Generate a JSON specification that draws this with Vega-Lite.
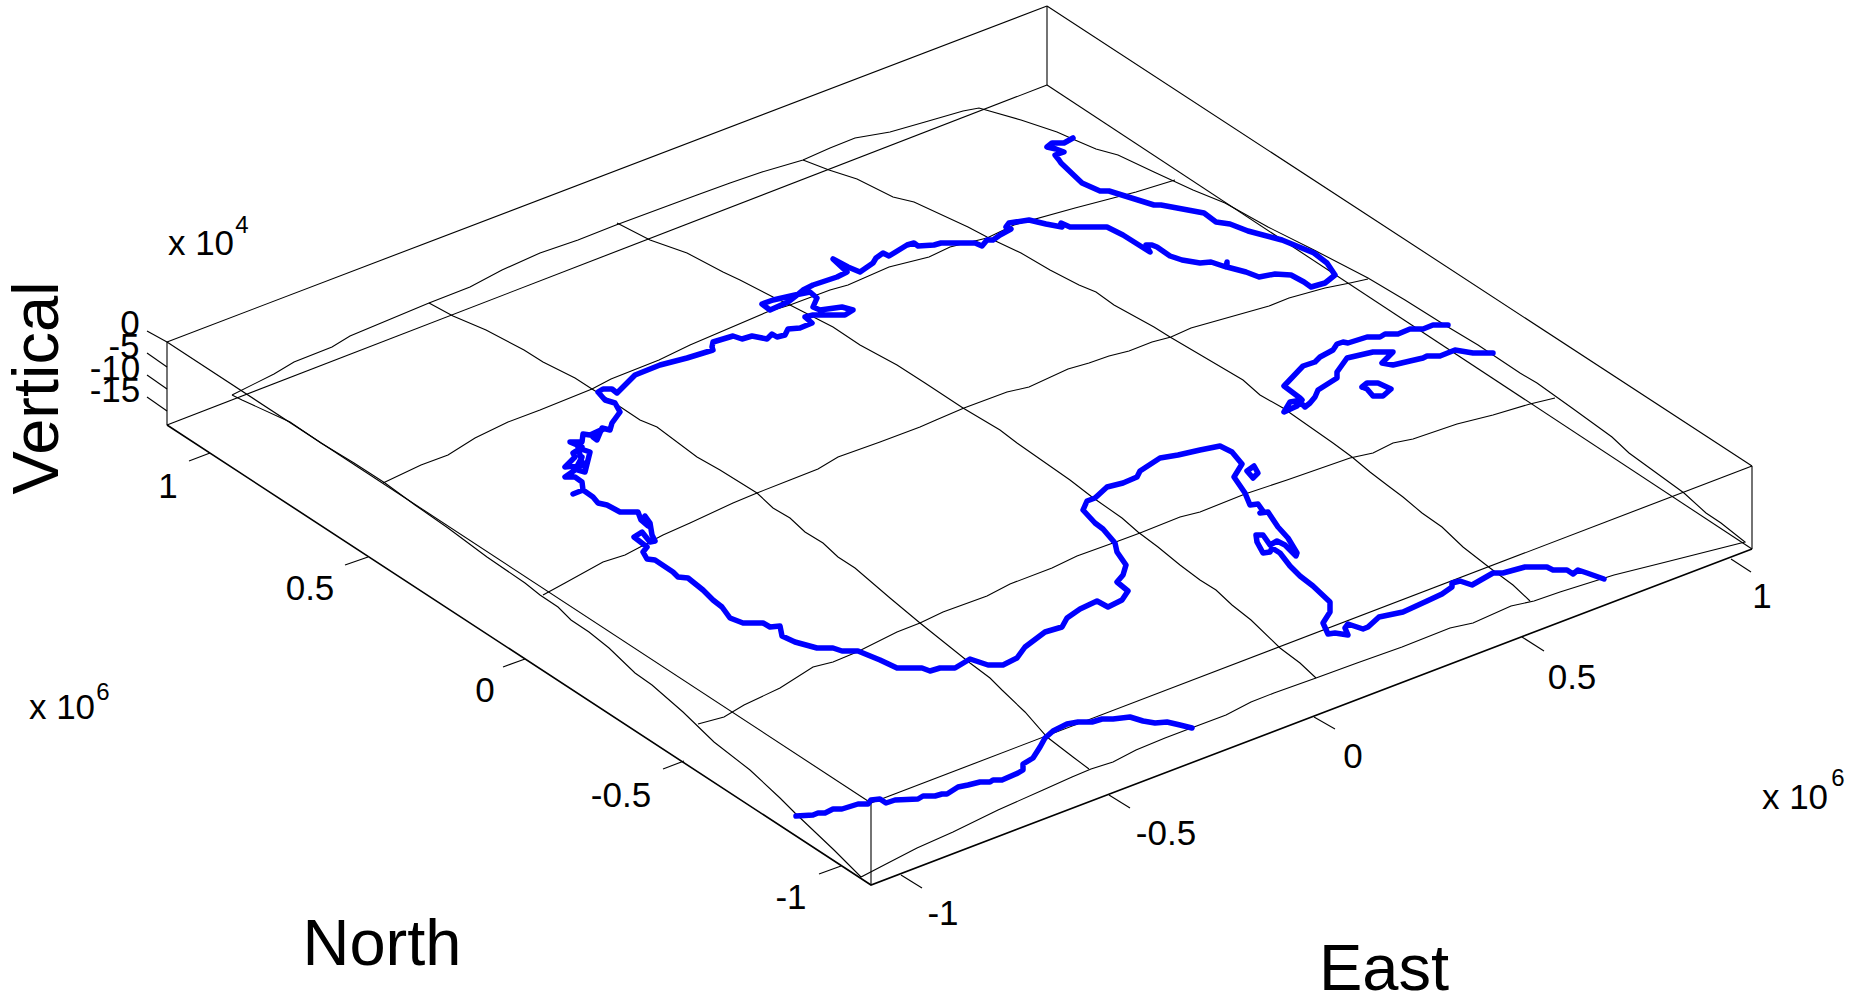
{"$schema":"https://vega.github.io/schema/vega-lite/v6.json","width":1855,"height":995,"autosize":{"type":"none"},"padding":0,"background":"white","config":{"view":{"stroke":null}},
"datasets":{
"frame":[
{"s":"ab","x":167,"y":342},{"s":"ab","x":1047,"y":6},
{"s":"bc","x":1047,"y":6},{"s":"bc","x":1752,"y":466},
{"s":"cd","x":1752,"y":466},{"s":"cd","x":871,"y":803},
{"s":"da","x":871,"y":803},{"s":"da","x":167,"y":342},
{"s":"aa","x":167,"y":342},{"s":"aa","x":167,"y":425},
{"s":"bb","x":1047,"y":6},{"s":"bb","x":1047,"y":85},
{"s":"cc","x":1752,"y":466},{"s":"cc","x":1752,"y":549},
{"s":"dd","x":871,"y":803},{"s":"dd","x":871,"y":885},
{"s":"ab2","x":167,"y":425},{"s":"ab2","x":1047,"y":85},
{"s":"bc2","x":1047,"y":85},{"s":"bc2","x":1752,"y":549},
{"s":"tn1","x":210,"y":453},{"s":"tn1","x":189,"y":461},
{"s":"tn2","x":368,"y":557},{"s":"tn2","x":345,"y":565},
{"s":"tn3","x":525,"y":659},{"s":"tn3","x":503,"y":667},
{"s":"tn4","x":684,"y":761},{"s":"tn4","x":663,"y":769},
{"s":"tn5","x":841,"y":866},{"s":"tn5","x":819,"y":874},
{"s":"te1","x":901,"y":875},{"s":"te1","x":922,"y":888},
{"s":"te2","x":1109,"y":795},{"s":"te2","x":1130,"y":808},
{"s":"te3","x":1314,"y":717},{"s":"te3","x":1335,"y":729},
{"s":"te4","x":1522,"y":637},{"s":"te4","x":1544,"y":651},
{"s":"te5","x":1731,"y":559},{"s":"te5","x":1751,"y":572},
{"s":"tv1","x":167,"y":342},{"s":"tv1","x":147,"y":331},
{"s":"tv2","x":167,"y":367},{"s":"tv2","x":147,"y":353},
{"s":"tv3","x":167,"y":389},{"s":"tv3","x":147,"y":375},
{"s":"tv4","x":167,"y":411},{"s":"tv4","x":147,"y":397}],
"front":[{"x":167,"y":425},{"x":871,"y":885},{"x":1752,"y":549}],
"grid":[
{"s":"o","x":232,"y":395},{"s":"o","x":274,"y":374},{"s":"o","x":294,"y":362},{"s":"o","x":332,"y":347},{"s":"o","x":350,"y":336},{"s":"o","x":429,"y":303},{"s":"o","x":470,"y":287},{"s":"o","x":502,"y":270},{"s":"o","x":540,"y":253},{"s":"o","x":578,"y":240},{"s":"o","x":616,"y":225},{"s":"o","x":670,"y":205},{"s":"o","x":697,"y":195},{"s":"o","x":730,"y":183},{"s":"o","x":762,"y":172},{"s":"o","x":803,"y":160},{"s":"o","x":830,"y":148},{"s":"o","x":855,"y":138},{"s":"o","x":890,"y":132},{"s":"o","x":925,"y":122},{"s":"o","x":963,"y":111},{"s":"o","x":979,"y":108},{"s":"o","x":1021,"y":120},{"s":"o","x":1057,"y":132},{"s":"o","x":1075,"y":140},{"s":"o","x":1096,"y":149},{"s":"o","x":1118,"y":155},{"s":"o","x":1154,"y":172},{"s":"o","x":1193,"y":190},{"s":"o","x":1225,"y":203},{"s":"o","x":1268,"y":227},{"s":"o","x":1314,"y":250},{"s":"o","x":1368,"y":278},{"s":"o","x":1405,"y":300},{"s":"o","x":1448,"y":327},{"s":"o","x":1478,"y":345},{"s":"o","x":1520,"y":373},{"s":"o","x":1537,"y":383},{"s":"o","x":1572,"y":408},{"s":"o","x":1612,"y":437},{"s":"o","x":1629,"y":453},{"s":"o","x":1684,"y":493},{"s":"o","x":1706,"y":513},{"s":"o","x":1721,"y":523},{"s":"o","x":1745,"y":542},
{"s":"o","x":1662,"y":563},{"s":"o","x":1614,"y":575},{"s":"o","x":1560,"y":592},{"s":"o","x":1534,"y":601},{"s":"o","x":1511,"y":606},{"s":"o","x":1473,"y":623},{"s":"o","x":1450,"y":628},{"s":"o","x":1402,"y":647},{"s":"o","x":1357,"y":663},{"s":"o","x":1316,"y":678},{"s":"o","x":1274,"y":693},{"s":"o","x":1251,"y":702},{"s":"o","x":1226,"y":715},{"s":"o","x":1194,"y":727},{"s":"o","x":1165,"y":738},{"s":"o","x":1136,"y":750},{"s":"o","x":1113,"y":762},{"s":"o","x":1091,"y":769},{"s":"o","x":1072,"y":777},{"s":"o","x":1043,"y":790},{"s":"o","x":998,"y":810},{"s":"o","x":953,"y":832},{"s":"o","x":917,"y":848},{"s":"o","x":888,"y":863},{"s":"o","x":861,"y":877},
{"s":"o","x":834,"y":850},{"s":"o","x":795,"y":813},{"s":"o","x":780,"y":798},{"s":"o","x":750,"y":770},{"s":"o","x":714,"y":742},{"s":"o","x":683,"y":712},{"s":"o","x":652,"y":685},{"s":"o","x":635,"y":673},{"s":"o","x":609,"y":648},{"s":"o","x":589,"y":632},{"s":"o","x":571,"y":620},{"s":"o","x":558,"y":607},{"s":"o","x":540,"y":595},{"s":"o","x":525,"y":583},{"s":"o","x":487,"y":557},{"s":"o","x":448,"y":528},{"s":"o","x":415,"y":505},{"s":"o","x":385,"y":483},{"s":"o","x":354,"y":463},{"s":"o","x":321,"y":443},{"s":"o","x":290,"y":422},{"s":"o","x":242,"y":400},{"s":"o","x":232,"y":395},
{"s":"l1","x":383,"y":483},{"s":"l1","x":421,"y":465},{"s":"l1","x":448,"y":455},{"s":"l1","x":475,"y":438},{"s":"l1","x":508,"y":422},{"s":"l1","x":540,"y":410},{"s":"l1","x":592,"y":389},{"s":"l1","x":611,"y":379},{"s":"l1","x":659,"y":360},{"s":"l1","x":690,"y":345},{"s":"l1","x":767,"y":312},{"s":"l1","x":790,"y":305},{"s":"l1","x":830,"y":290},{"s":"l1","x":848,"y":285},{"s":"l1","x":889,"y":267},{"s":"l1","x":929,"y":257},{"s":"l1","x":950,"y":247},{"s":"l1","x":987,"y":238},{"s":"l1","x":1014,"y":225},{"s":"l1","x":1075,"y":208},{"s":"l1","x":1136,"y":192},{"s":"l1","x":1175,"y":180},
{"s":"l2","x":543,"y":595},{"s":"l2","x":565,"y":583},{"s":"l2","x":603,"y":562},{"s":"l2","x":625,"y":555},{"s":"l2","x":663,"y":535},{"s":"l2","x":690,"y":523},{"s":"l2","x":733,"y":503},{"s":"l2","x":757,"y":493},{"s":"l2","x":790,"y":480},{"s":"l2","x":818,"y":469},{"s":"l2","x":838,"y":457},{"s":"l2","x":880,"y":442},{"s":"l2","x":920,"y":427},{"s":"l2","x":936,"y":420},{"s":"l2","x":964,"y":408},{"s":"l2","x":1007,"y":392},{"s":"l2","x":1029,"y":387},{"s":"l2","x":1068,"y":369},{"s":"l2","x":1089,"y":363},{"s":"l2","x":1109,"y":356},{"s":"l2","x":1129,"y":351},{"s":"l2","x":1152,"y":342},{"s":"l2","x":1171,"y":337},{"s":"l2","x":1191,"y":328},{"s":"l2","x":1269,"y":306},{"s":"l2","x":1289,"y":298},{"s":"l2","x":1325,"y":288},{"s":"l2","x":1350,"y":283},{"s":"l2","x":1368,"y":279},
{"s":"l3","x":698,"y":724},{"s":"l3","x":724,"y":717},{"s":"l3","x":744,"y":705},{"s":"l3","x":780,"y":688},{"s":"l3","x":813,"y":667},{"s":"l3","x":833,"y":662},{"s":"l3","x":857,"y":652},{"s":"l3","x":897,"y":632},{"s":"l3","x":920,"y":623},{"s":"l3","x":943,"y":612},{"s":"l3","x":987,"y":596},{"s":"l3","x":1010,"y":584},{"s":"l3","x":1052,"y":568},{"s":"l3","x":1077,"y":556},{"s":"l3","x":1113,"y":543},{"s":"l3","x":1140,"y":533},{"s":"l3","x":1180,"y":517},{"s":"l3","x":1200,"y":512},{"s":"l3","x":1245,"y":494},{"s":"l3","x":1287,"y":480},{"s":"l3","x":1350,"y":458},{"s":"l3","x":1373,"y":453},{"s":"l3","x":1393,"y":443},{"s":"l3","x":1413,"y":439},{"s":"l3","x":1457,"y":424},{"s":"l3","x":1493,"y":415},{"s":"l3","x":1530,"y":404},{"s":"l3","x":1555,"y":398},
{"s":"m1","x":429,"y":303},{"s":"m1","x":453,"y":316},{"s":"m1","x":486,"y":330},{"s":"m1","x":524,"y":350},{"s":"m1","x":543,"y":362},{"s":"m1","x":575,"y":378},{"s":"m1","x":592,"y":389},{"s":"m1","x":622,"y":408},{"s":"m1","x":640,"y":420},{"s":"m1","x":657,"y":427},{"s":"m1","x":697,"y":457},{"s":"m1","x":720,"y":470},{"s":"m1","x":757,"y":493},{"s":"m1","x":773,"y":508},{"s":"m1","x":790,"y":518},{"s":"m1","x":805,"y":532},{"s":"m1","x":823,"y":543},{"s":"m1","x":838,"y":557},{"s":"m1","x":855,"y":568},{"s":"m1","x":890,"y":598},{"s":"m1","x":920,"y":623},{"s":"m1","x":950,"y":647},{"s":"m1","x":970,"y":663},{"s":"m1","x":990,"y":678},{"s":"m1","x":1002,"y":690},{"s":"m1","x":1025,"y":712},{"s":"m1","x":1047,"y":737},{"s":"m1","x":1073,"y":757},{"s":"m1","x":1089,"y":769},
{"s":"m2","x":617,"y":223},{"s":"m2","x":650,"y":240},{"s":"m2","x":687,"y":253},{"s":"m2","x":723,"y":272},{"s":"m2","x":740,"y":280},{"s":"m2","x":773,"y":297},{"s":"m2","x":790,"y":305},{"s":"m2","x":833,"y":327},{"s":"m2","x":860,"y":345},{"s":"m2","x":897,"y":365},{"s":"m2","x":925,"y":383},{"s":"m2","x":963,"y":408},{"s":"m2","x":1000,"y":430},{"s":"m2","x":1017,"y":443},{"s":"m2","x":1070,"y":480},{"s":"m2","x":1092,"y":497},{"s":"m2","x":1122,"y":518},{"s":"m2","x":1138,"y":532},{"s":"m2","x":1158,"y":547},{"s":"m2","x":1180,"y":565},{"s":"m2","x":1200,"y":580},{"s":"m2","x":1216,"y":590},{"s":"m2","x":1232,"y":605},{"s":"m2","x":1251,"y":620},{"s":"m2","x":1280,"y":648},{"s":"m2","x":1300,"y":663},{"s":"m2","x":1316,"y":678},
{"s":"m3","x":803,"y":160},{"s":"m3","x":829,"y":170},{"s":"m3","x":857,"y":179},{"s":"m3","x":893,"y":197},{"s":"m3","x":914,"y":202},{"s":"m3","x":968,"y":227},{"s":"m3","x":987,"y":237},{"s":"m3","x":1021,"y":253},{"s":"m3","x":1050,"y":270},{"s":"m3","x":1079,"y":285},{"s":"m3","x":1096,"y":292},{"s":"m3","x":1114,"y":305},{"s":"m3","x":1154,"y":327},{"s":"m3","x":1170,"y":337},{"s":"m3","x":1204,"y":357},{"s":"m3","x":1243,"y":380},{"s":"m3","x":1260,"y":395},{"s":"m3","x":1283,"y":408},{"s":"m3","x":1333,"y":443},{"s":"m3","x":1352,"y":457},{"s":"m3","x":1370,"y":472},{"s":"m3","x":1387,"y":485},{"s":"m3","x":1403,"y":497},{"s":"m3","x":1422,"y":513},{"s":"m3","x":1442,"y":527},{"s":"m3","x":1463,"y":547},{"s":"m3","x":1490,"y":568},{"s":"m3","x":1513,"y":585},{"s":"m3","x":1530,"y":601}],
"coast":[
{"s":"A","x":1073,"y":138},{"s":"A","x":1064,"y":143},{"s":"A","x":1052,"y":143},{"s":"A","x":1047,"y":147},{"s":"A","x":1056,"y":149},{"s":"A","x":1064,"y":152},{"s":"A","x":1055,"y":155},{"s":"A","x":1059,"y":160},{"s":"A","x":1061,"y":163},{"s":"A","x":1082,"y":183},{"s":"A","x":1100,"y":191},{"s":"A","x":1109,"y":191},{"s":"A","x":1154,"y":205},{"s":"A","x":1161,"y":205},{"s":"A","x":1204,"y":213},{"s":"A","x":1216,"y":222},{"s":"A","x":1230,"y":224},{"s":"A","x":1248,"y":231},{"s":"A","x":1282,"y":240},{"s":"A","x":1314,"y":253},{"s":"A","x":1327,"y":263},{"s":"A","x":1335,"y":275},{"s":"A","x":1325,"y":283},{"s":"A","x":1311,"y":287},{"s":"A","x":1304,"y":282},{"s":"A","x":1291,"y":275},{"s":"A","x":1275,"y":274},{"s":"A","x":1259,"y":277},{"s":"A","x":1246,"y":272},{"s":"A","x":1227,"y":267},{"s":"A","x":1227,"y":262},{"s":"A","x":1226,"y":267},{"s":"A","x":1211,"y":262},{"s":"A","x":1200,"y":263},{"s":"A","x":1182,"y":260},{"s":"A","x":1170,"y":256},{"s":"A","x":1157,"y":247},{"s":"A","x":1152,"y":245},{"s":"A","x":1146,"y":245},{"s":"A","x":1150,"y":252},{"s":"A","x":1123,"y":235},{"s":"A","x":1107,"y":227},{"s":"A","x":1070,"y":227},{"s":"A","x":1061,"y":223},{"s":"A","x":1062,"y":227},{"s":"A","x":1046,"y":224},{"s":"A","x":1029,"y":220},{"s":"A","x":1009,"y":223},{"s":"A","x":1006,"y":227},{"s":"A","x":1011,"y":229},{"s":"A","x":1000,"y":235},{"s":"A","x":993,"y":240},{"s":"A","x":987,"y":240},{"s":"A","x":982,"y":246},{"s":"A","x":975,"y":243},{"s":"A","x":941,"y":243},{"s":"A","x":934,"y":245},{"s":"A","x":918,"y":246},{"s":"A","x":914,"y":243},{"s":"A","x":907,"y":245},{"s":"A","x":889,"y":256},{"s":"A","x":883,"y":253},{"s":"A","x":876,"y":258},{"s":"A","x":873,"y":263},{"s":"A","x":860,"y":272},{"s":"A","x":848,"y":267},{"s":"A","x":833,"y":259},{"s":"A","x":847,"y":272},{"s":"A","x":837,"y":277},{"s":"A","x":813,"y":285},{"s":"A","x":803,"y":290},{"s":"A","x":797,"y":295},{"s":"A","x":788,"y":302},{"s":"A","x":770,"y":310},{"s":"A","x":762,"y":304},{"s":"A","x":773,"y":300},{"s":"A","x":795,"y":295},{"s":"A","x":810,"y":292},{"s":"A","x":817,"y":298},{"s":"A","x":813,"y":307},{"s":"A","x":820,"y":310},{"s":"A","x":842,"y":307},{"s":"A","x":853,"y":310},{"s":"A","x":845,"y":315},{"s":"A","x":813,"y":315},{"s":"A","x":805,"y":317},{"s":"A","x":812,"y":323},{"s":"A","x":800,"y":328},{"s":"A","x":788,"y":329},{"s":"A","x":785,"y":335},{"s":"A","x":777,"y":337},{"s":"A","x":772,"y":334},{"s":"A","x":767,"y":339},{"s":"A","x":752,"y":336},{"s":"A","x":742,"y":339},{"s":"A","x":733,"y":336},{"s":"A","x":713,"y":342},{"s":"A","x":712,"y":347},{"s":"A","x":713,"y":350},{"s":"A","x":687,"y":358},{"s":"A","x":660,"y":365},{"s":"A","x":635,"y":375},{"s":"A","x":617,"y":393},{"s":"A","x":612,"y":389},{"s":"A","x":603,"y":389},{"s":"A","x":598,"y":392},{"s":"A","x":605,"y":400},{"s":"A","x":615,"y":403},{"s":"A","x":620,"y":412},{"s":"A","x":612,"y":423},{"s":"A","x":610,"y":430},{"s":"A","x":602,"y":428},{"s":"A","x":597,"y":440},{"s":"A","x":593,"y":437},{"s":"A","x":603,"y":429},{"s":"A","x":590,"y":435},{"s":"A","x":583,"y":434},{"s":"A","x":582,"y":442},{"s":"A","x":570,"y":442},{"s":"A","x":582,"y":447},{"s":"A","x":573,"y":453},{"s":"A","x":575,"y":457},{"s":"A","x":565,"y":467},{"s":"A","x":583,"y":465},{"s":"A","x":578,"y":448},{"s":"A","x":590,"y":452},{"s":"A","x":585,"y":472},{"s":"A","x":578,"y":470},{"s":"A","x":582,"y":457},{"s":"A","x":575,"y":470},{"s":"A","x":565,"y":477},{"s":"A","x":575,"y":477},{"s":"A","x":582,"y":482},{"s":"A","x":583,"y":490},{"s":"A","x":573,"y":494},{"s":"A","x":583,"y":490},{"s":"A","x":593,"y":497},{"s":"A","x":598,"y":503},{"s":"A","x":607,"y":505},{"s":"A","x":620,"y":512},{"s":"A","x":638,"y":512},{"s":"A","x":641,"y":520},{"s":"A","x":648,"y":526},{"s":"A","x":645,"y":516},{"s":"A","x":650,"y":523},{"s":"A","x":652,"y":535},{"s":"A","x":655,"y":541},{"s":"A","x":650,"y":542},{"s":"A","x":642,"y":532},{"s":"A","x":634,"y":537},{"s":"A","x":647,"y":547},{"s":"A","x":643,"y":552},{"s":"A","x":647,"y":559},{"s":"A","x":655,"y":560},{"s":"A","x":673,"y":572},{"s":"A","x":678,"y":577},{"s":"A","x":688,"y":578},{"s":"A","x":703,"y":590},{"s":"A","x":713,"y":600},{"s":"A","x":722,"y":607},{"s":"A","x":730,"y":618},{"s":"A","x":743,"y":623},{"s":"A","x":763,"y":623},{"s":"A","x":770,"y":627},{"s":"A","x":780,"y":626},{"s":"A","x":782,"y":636},{"s":"A","x":795,"y":642},{"s":"A","x":817,"y":648},{"s":"A","x":833,"y":648},{"s":"A","x":842,"y":651},{"s":"A","x":858,"y":651},{"s":"A","x":880,"y":660},{"s":"A","x":897,"y":668},{"s":"A","x":922,"y":668},{"s":"A","x":930,"y":671},{"s":"A","x":940,"y":668},{"s":"A","x":955,"y":668},{"s":"A","x":965,"y":662},{"s":"A","x":970,"y":659},{"s":"A","x":988,"y":665},{"s":"A","x":1003,"y":665},{"s":"A","x":1017,"y":658},{"s":"A","x":1025,"y":647},{"s":"A","x":1045,"y":632},{"s":"A","x":1062,"y":627},{"s":"A","x":1067,"y":618},{"s":"A","x":1080,"y":609},{"s":"A","x":1097,"y":601},{"s":"A","x":1108,"y":607},{"s":"A","x":1122,"y":600},{"s":"A","x":1128,"y":591},{"s":"A","x":1117,"y":582},{"s":"A","x":1123,"y":575},{"s":"A","x":1126,"y":565},{"s":"A","x":1117,"y":552},{"s":"A","x":1115,"y":543},{"s":"A","x":1103,"y":529},{"s":"A","x":1095,"y":523},{"s":"A","x":1083,"y":510},{"s":"A","x":1087,"y":501},{"s":"A","x":1095,"y":498},{"s":"A","x":1107,"y":487},{"s":"A","x":1123,"y":483},{"s":"A","x":1137,"y":477},{"s":"A","x":1140,"y":471},{"s":"A","x":1160,"y":458},{"s":"A","x":1178,"y":455},{"s":"A","x":1200,"y":450},{"s":"A","x":1220,"y":446},{"s":"A","x":1232,"y":452},{"s":"A","x":1242,"y":464},{"s":"A","x":1234,"y":477},{"s":"A","x":1245,"y":493},{"s":"A","x":1250,"y":505},{"s":"A","x":1258,"y":504},{"s":"A","x":1263,"y":511},{"s":"A","x":1260,"y":513},{"s":"A","x":1268,"y":512},{"s":"A","x":1278,"y":527},{"s":"A","x":1288,"y":538},{"s":"A","x":1297,"y":553},{"s":"A","x":1296,"y":556},{"s":"A","x":1285,"y":545},{"s":"A","x":1277,"y":541},{"s":"A","x":1270,"y":545},{"s":"A","x":1263,"y":535},{"s":"A","x":1256,"y":535},{"s":"A","x":1257,"y":542},{"s":"A","x":1263,"y":553},{"s":"A","x":1270,"y":552},{"s":"A","x":1272,"y":548},{"s":"A","x":1280,"y":553},{"s":"A","x":1290,"y":566},{"s":"A","x":1300,"y":576},{"s":"A","x":1313,"y":586},{"s":"A","x":1330,"y":602},{"s":"A","x":1330,"y":612},{"s":"A","x":1323,"y":623},{"s":"A","x":1328,"y":634},{"s":"A","x":1335,"y":633},{"s":"A","x":1348,"y":635},{"s":"A","x":1345,"y":628},{"s":"A","x":1348,"y":624},{"s":"A","x":1363,"y":629},{"s":"A","x":1368,"y":627},{"s":"A","x":1379,"y":617},{"s":"A","x":1403,"y":612},{"s":"A","x":1427,"y":601},{"s":"A","x":1442,"y":594},{"s":"A","x":1452,"y":587},{"s":"A","x":1452,"y":583},{"s":"A","x":1460,"y":581},{"s":"A","x":1472,"y":585},{"s":"A","x":1493,"y":573},{"s":"A","x":1503,"y":573},{"s":"A","x":1525,"y":567},{"s":"A","x":1547,"y":567},{"s":"A","x":1553,"y":570},{"s":"A","x":1567,"y":570},{"s":"A","x":1573,"y":574},{"s":"A","x":1578,"y":570},{"s":"A","x":1587,"y":573},{"s":"A","x":1604,"y":579},
{"s":"B","x":1448,"y":325},{"s":"B","x":1433,"y":325},{"s":"B","x":1423,"y":329},{"s":"B","x":1410,"y":329},{"s":"B","x":1398,"y":334},{"s":"B","x":1385,"y":334},{"s":"B","x":1380,"y":337},{"s":"B","x":1367,"y":337},{"s":"B","x":1348,"y":343},{"s":"B","x":1343,"y":342},{"s":"B","x":1337,"y":344},{"s":"B","x":1333,"y":350},{"s":"B","x":1320,"y":357},{"s":"B","x":1315,"y":362},{"s":"B","x":1303,"y":366},{"s":"B","x":1284,"y":386},{"s":"B","x":1300,"y":398},{"s":"B","x":1302,"y":400},{"s":"B","x":1290,"y":402},{"s":"B","x":1284,"y":412},{"s":"B","x":1297,"y":406},{"s":"B","x":1300,"y":402},{"s":"B","x":1305,"y":407},{"s":"B","x":1310,"y":403},{"s":"B","x":1315,"y":397},{"s":"B","x":1318,"y":390},{"s":"B","x":1337,"y":378},{"s":"B","x":1337,"y":372},{"s":"B","x":1347,"y":358},{"s":"B","x":1373,"y":352},{"s":"B","x":1393,"y":352},{"s":"B","x":1382,"y":363},{"s":"B","x":1393,"y":365},{"s":"B","x":1410,"y":361},{"s":"B","x":1423,"y":358},{"s":"B","x":1427,"y":356},{"s":"B","x":1440,"y":356},{"s":"B","x":1455,"y":350},{"s":"B","x":1473,"y":353},{"s":"B","x":1493,"y":353},
{"s":"C","x":1362,"y":387},{"s":"C","x":1367,"y":383},{"s":"C","x":1378,"y":383},{"s":"C","x":1391,"y":389},{"s":"C","x":1383,"y":396},{"s":"C","x":1373,"y":396},{"s":"C","x":1367,"y":389},{"s":"C","x":1362,"y":387},
{"s":"D","x":1247,"y":471},{"s":"D","x":1254,"y":466},{"s":"D","x":1258,"y":473},{"s":"D","x":1253,"y":478},{"s":"D","x":1247,"y":471},
{"s":"E","x":796,"y":816},{"s":"E","x":813,"y":815},{"s":"E","x":818,"y":813},{"s":"E","x":825,"y":813},{"s":"E","x":833,"y":809},{"s":"E","x":842,"y":809},{"s":"E","x":858,"y":804},{"s":"E","x":868,"y":804},{"s":"E","x":871,"y":800},{"s":"E","x":880,"y":799},{"s":"E","x":886,"y":803},{"s":"E","x":895,"y":800},{"s":"E","x":918,"y":799},{"s":"E","x":923,"y":796},{"s":"E","x":935,"y":796},{"s":"E","x":942,"y":794},{"s":"E","x":947,"y":794},{"s":"E","x":958,"y":787},{"s":"E","x":968,"y":785},{"s":"E","x":980,"y":782},{"s":"E","x":990,"y":782},{"s":"E","x":993,"y":780},{"s":"E","x":1002,"y":780},{"s":"E","x":1018,"y":773},{"s":"E","x":1023,"y":770},{"s":"E","x":1023,"y":764},{"s":"E","x":1033,"y":758},{"s":"E","x":1040,"y":747},{"s":"E","x":1045,"y":738},{"s":"E","x":1053,"y":731},{"s":"E","x":1067,"y":724},{"s":"E","x":1078,"y":722},{"s":"E","x":1092,"y":722},{"s":"E","x":1102,"y":719},{"s":"E","x":1113,"y":719},{"s":"E","x":1130,"y":717},{"s":"E","x":1143,"y":721},{"s":"E","x":1155,"y":723},{"s":"E","x":1167,"y":722},{"s":"E","x":1180,"y":725},{"s":"E","x":1192,"y":728}],
"ticks":[
{"t":"-1","x":943,"y":925},{"t":"-0.5","x":1166,"y":845},{"t":"0","x":1353,"y":768},{"t":"0.5","x":1572,"y":689},{"t":"1","x":1762,"y":608},
{"t":"1","x":168,"y":498},{"t":"0.5","x":310,"y":600},{"t":"0","x":485,"y":702},{"t":"-0.5","x":621,"y":807},{"t":"-1","x":791,"y":909},
{"t":"0","x":130,"y":335},{"t":"-5","x":124,"y":358},{"t":"-10","x":115,"y":380},{"t":"-15","x":115,"y":402},
{"t":"x 10","x":1795,"y":809},{"t":"x 10","x":62,"y":719},{"t":"x 10","x":201,"y":255}],
"exponents":[{"t":"6","x":1838,"y":786},{"t":"6","x":103,"y":700},{"t":"4","x":242,"y":233}],
"titles":[{"t":"North","x":382,"y":965},{"t":"East","x":1384,"y":990}],
"vtitle":[{"t":"Vertical","x":58,"y":388}]
},
"encoding":{
"x":{"field":"x","type":"quantitative","axis":null,"scale":{"domain":[0,1855],"nice":false,"zero":false}},
"y":{"field":"y","type":"quantitative","axis":null,"scale":{"domain":[995,0],"nice":false,"zero":false}}
},
"layer":[
{"data":{"name":"grid"},"mark":{"type":"line","stroke":"#000000","strokeWidth":1.1},"encoding":{"detail":{"field":"s"},"order":{"value":null}}},
{"data":{"name":"frame"},"mark":{"type":"line","stroke":"#000000","strokeWidth":1.1},"encoding":{"detail":{"field":"s"},"order":{"value":null}}},
{"data":{"name":"front"},"mark":{"type":"line","stroke":"#000000","strokeWidth":1.6},"encoding":{"order":{"value":null}}},
{"data":{"name":"coast"},"mark":{"type":"line","stroke":"#0000ff","strokeWidth":5.5,"strokeJoin":"round","strokeCap":"round"},"encoding":{"detail":{"field":"s"},"order":{"value":null}}},
{"data":{"name":"ticks"},"mark":{"type":"text","font":"Liberation Sans","fontSize":35,"align":"center","baseline":"alphabetic","color":"#000000"},"encoding":{"text":{"field":"t"}}},
{"data":{"name":"exponents"},"mark":{"type":"text","font":"Liberation Sans","fontSize":24,"align":"center","baseline":"alphabetic","color":"#000000"},"encoding":{"text":{"field":"t"}}},
{"data":{"name":"titles"},"mark":{"type":"text","font":"Liberation Sans","fontSize":65,"align":"center","baseline":"alphabetic","color":"#000000"},"encoding":{"text":{"field":"t"}}},
{"data":{"name":"vtitle"},"mark":{"type":"text","font":"Liberation Sans","fontSize":65,"align":"center","baseline":"alphabetic","angle":270,"color":"#000000"},"encoding":{"text":{"field":"t"}}}
]}
